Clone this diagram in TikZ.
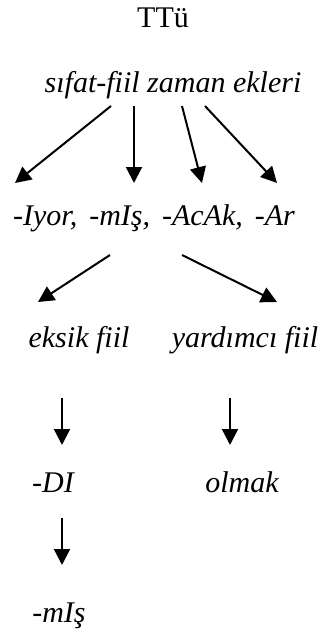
\documentclass[tikz,border=0pt]{standalone}
\usepackage{fontspec}
\setmainfont{Liberation Serif}
\usetikzlibrary{arrows.meta}
\tikzset{
  yazi/.style={font=\fontsize{30}{36}\selectfont\itshape, inner sep=0pt, anchor=base},
  ok/.style={-{Triangle[length=16pt, width=16pt]}, line width=2pt},
}
\newcommand{\bosluk}{\hspace{12pt}}
\begin{document}
\begin{tikzpicture}[x=1pt, y=-1pt]
  \useasboundingbox (0,0) rectangle (326,641);
  % basliklar ve satirlar
  \node[yazi, font=\fontsize{30}{36}\selectfont] (baslik) at (163,27) {TTü};
  \node[yazi] (kok) at (173,92) {sıfat-fiil zaman ekleri};
  \node[yazi] (ekler) at (154,225) {-Iyor,\bosluk-mIş,\bosluk-AcAk,\bosluk-Ar};
  \node[yazi] (eksik) at (79,347) {eksik fiil};
  \node[yazi] (yardimci) at (245,347) {yardımcı fiil};
  \node[yazi] (di) at (53,492) {-DI};
  \node[yazi] (olmak) at (242,492) {olmak};
  \node[yazi] (mis) at (59,622) {-mIş};
  % oklar
  \foreach \a/\b in {-62/-139, -39/-20, 9/48, 32/123}
    \draw[ok] ([xshift=\a pt, yshift=-14pt]kok.base) -- ([xshift=\b pt, yshift=42pt]ekler.base);
  \draw[ok] ([xshift=-44pt, yshift=-30pt]ekler.base) -- ([xshift=-41pt, yshift=45pt]eksik.base);
  \draw[ok] ([xshift=28pt, yshift=-30pt]ekler.base) -- ([xshift=32pt, yshift=45pt]yardimci.base);
  \draw[ok] ([xshift=-17pt, yshift=-51pt]eksik.base) -- ([xshift=9pt, yshift=47pt]di.base);
  \draw[ok] ([xshift=-15pt, yshift=-51pt]yardimci.base) -- ([xshift=-12pt, yshift=47pt]olmak.base);
  \draw[ok] ([xshift=9pt, yshift=-26pt]di.base) -- ([xshift=3pt, yshift=57pt]mis.base);
\end{tikzpicture}
\end{document}
